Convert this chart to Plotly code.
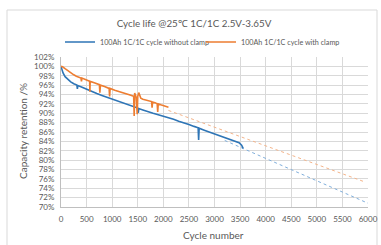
import plotly.graph_objects as go

# ---- data ----
blue_name = "100Ah 1C/1C cycle without clamp"
orange_name = "100Ah 1C/1C cycle with clamp"

blue_x = [0, 15, 40, 80, 130, 190, 250, 310, 320, 330, 400, 500, 600, 700, 800, 900, 1000,
          1100, 1200, 1300, 1400, 1500, 1510, 1520, 1600, 1700, 1800, 1900, 2000, 2100, 2200,
          2300, 2400, 2500, 2600, 2680, 2690, 2700, 2800, 2900, 3000, 3100, 3200, 3300, 3400,
          3480, 3530, 3560]
blue_y = [100.0, 99.3, 98.6, 97.8, 97.2, 96.7, 96.3, 96.0, 95.2, 95.9, 95.6, 95.1, 94.6, 94.2,
          93.8, 93.4, 93.0, 92.6, 92.2, 91.8, 91.4, 91.1, 90.1, 91.0, 90.7, 90.3, 90.0, 89.7,
          89.4, 89.0, 88.7, 88.3, 88.0, 87.6, 87.2, 86.9, 84.3, 86.8, 86.4, 86.0, 85.6, 85.2,
          84.9, 84.5, 84.1, 83.7, 83.2, 82.5]

orange_x = [0, 30, 80, 150, 200, 250, 300, 390, 400, 410, 500, 560, 565, 570, 650, 750, 760,
            770, 850, 940, 950, 960, 1050, 1150, 1250, 1350, 1420, 1430, 1440, 1470, 1490, 1500,
            1520, 1560, 1600, 1650, 1700, 1770, 1780, 1790, 1850, 1880, 1890, 1900, 1950, 2000,
            2050, 2100]
orange_y = [100.0, 99.9, 99.5, 98.9, 98.5, 98.2, 97.9, 97.5, 96.8, 97.5, 97.1, 96.8, 94.6, 96.8,
            96.5, 96.1, 94.4, 96.0, 95.7, 95.3, 93.6, 95.3, 94.9, 94.6, 94.2, 93.9, 93.6, 89.4,
            94.3, 93.4, 89.8, 93.6, 94.4, 93.2, 93.0, 92.9, 92.7, 92.5, 91.2, 92.4, 92.2, 92.0,
            90.3, 92.0, 91.8, 91.6, 91.5, 91.3]

blue_trend_x = [3200, 6000]
blue_trend_y = [84.2, 70.8]
orange_trend_x = [2100, 5950]
orange_trend_y = [90.6, 75.3]

x_ticks = list(range(0, 6001, 500))
y_ticks = list(range(70, 103, 2))
y_tick_labels = [f"{v}%" for v in y_ticks]

BLUE = "#2E75B6"
ORANGE = "#ED7D31"
GRAY = "#595959"
FONT = "Lato"

fig = go.Figure()
fig.add_trace(go.Scatter(x=blue_trend_x, y=blue_trend_y, mode="lines", showlegend=False,
                         line=dict(color="#7FAEDB", width=1, dash="dot")))
fig.add_trace(go.Scatter(x=orange_trend_x, y=orange_trend_y, mode="lines", showlegend=False,
                         line=dict(color="#F4B48A", width=1, dash="dot")))
fig.add_trace(go.Scatter(x=blue_x, y=blue_y, mode="lines", name=blue_name,
                         line=dict(color=BLUE, width=1.6)))
fig.add_trace(go.Scatter(x=orange_x, y=orange_y, mode="lines", name=orange_name,
                         line=dict(color=ORANGE, width=1.6)))

fig.update_layout(
    width=381, height=245,
    margin=dict(l=61, r=13, t=57, b=38, autoexpand=False),
    paper_bgcolor="white", plot_bgcolor="white",
    font=dict(family=FONT, color=GRAY),
    title=dict(text="Cycle life @25\u2103 1C/1C 2.5V-3.65V", x=194 / 381, xanchor="center",
               y=1 - 24 / 245, yanchor="middle", font=dict(size=9.8, color=GRAY, family=FONT)),
    legend=dict(orientation="h", x=(201 - 61) / 307, xanchor="center", y=(207 - 42) / 150,
                yanchor="middle", font=dict(size=7.2, color=GRAY), itemwidth=30,
                entrywidth=96, bgcolor="rgba(0,0,0,0)", tracegroupgap=0),
    xaxis=dict(range=[0, 6000], tickvals=x_ticks, showgrid=True, gridcolor="#D9D9D9",
               gridwidth=1, zeroline=False, showline=True, linecolor="#BFBFBF",
               tickfont=dict(size=8, color=GRAY), ticks="", ticklabelstandoff=4,
               fixedrange=True),
    yaxis=dict(range=[70, 102], tickvals=y_ticks, ticktext=y_tick_labels, showgrid=True,
               gridcolor="#D9D9D9", gridwidth=1, zeroline=False, showline=True,
               linecolor="#BFBFBF", tickfont=dict(size=8, color=GRAY), ticks="",
               ticklabelstandoff=4, fixedrange=True),
    annotations=[
        dict(text="Cycle number", xref="paper", yref="paper", x=(213 - 61) / 307,
             y=-(235 - 207) / 150, xanchor="center", yanchor="middle", showarrow=False,
             font=dict(size=10, color=GRAY, family=FONT)),
        dict(text="Capacity retention /%", xref="paper", yref="paper", x=-(61 - 23) / 307,
             y=(207 - 131) / 150, xanchor="center", yanchor="middle", showarrow=False,
             textangle=-90, font=dict(size=10, color=GRAY, family=FONT)),
    ],
    shapes=[
        dict(type="rect", xref="paper", yref="paper",
             x0=-(61 - 7) / 307, x1=(377 - 61) / 307, y0=-(250 - 207) / 150,
             y1=(207 - 10) / 150, line=dict(color="#D9D9D9", width=1), layer="below"),
    ],
)

fig.write_html("out.html", config={"displayModeBar": False},
               post_script="document.body.style.margin='0';")
